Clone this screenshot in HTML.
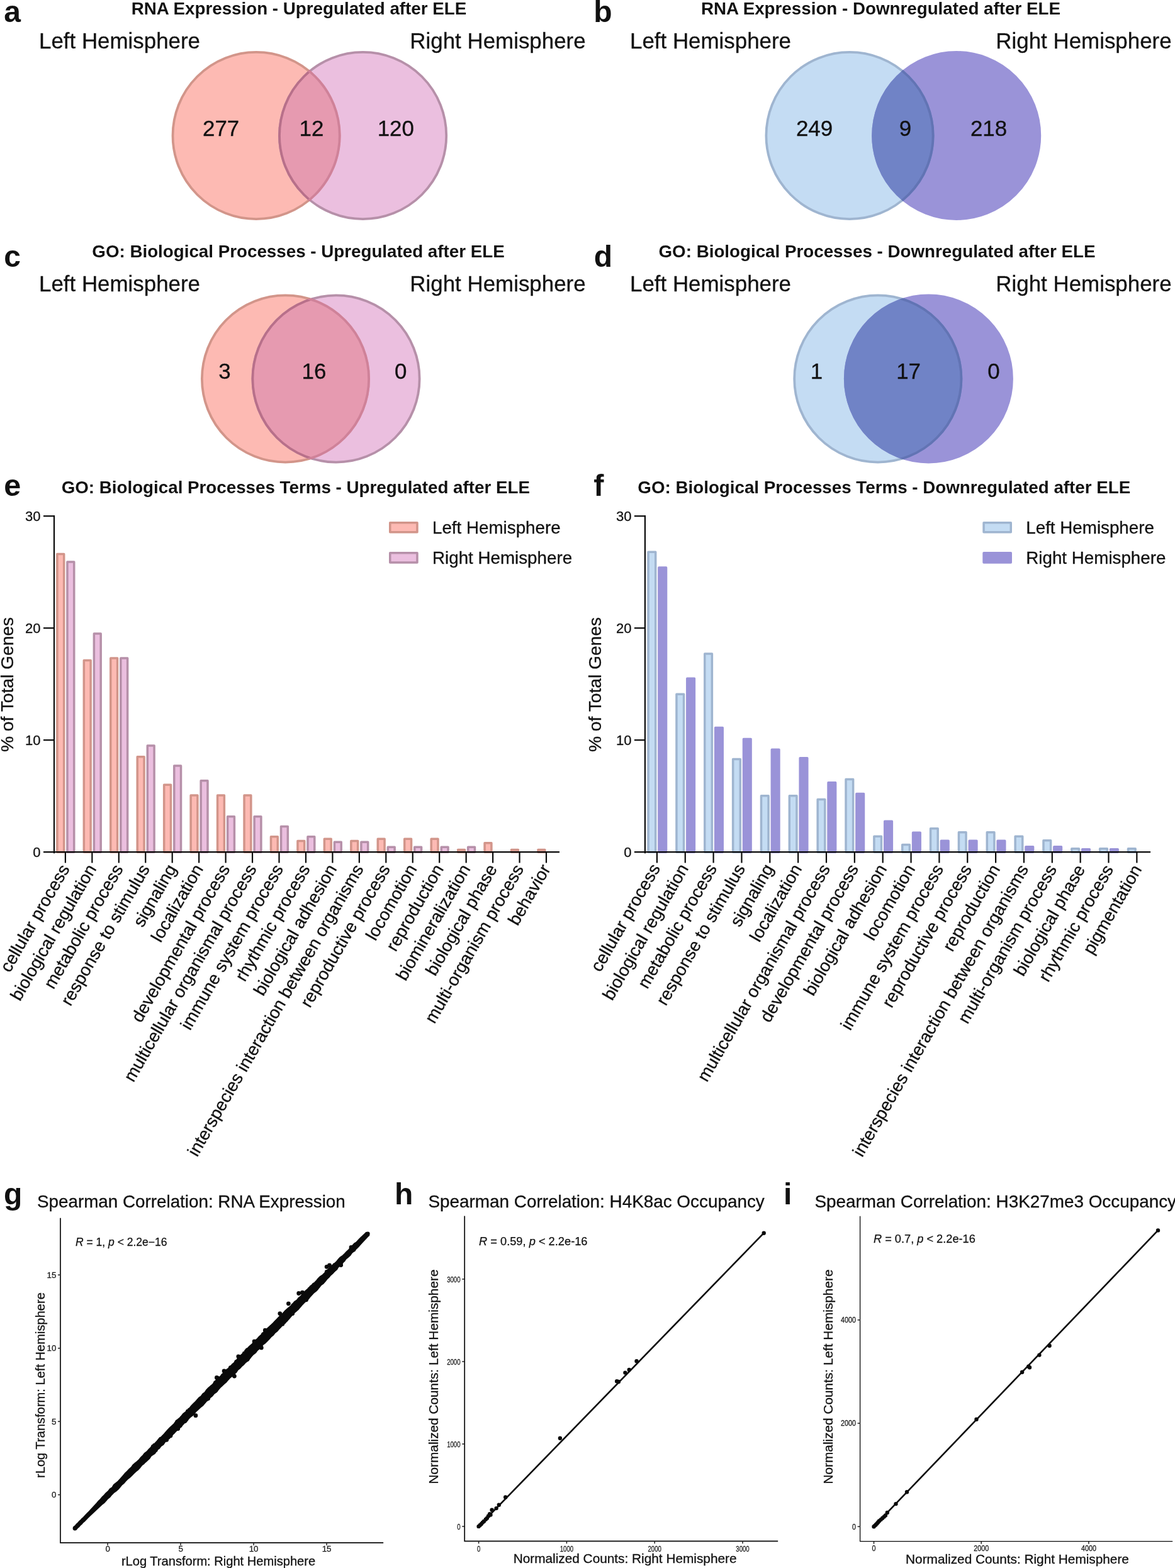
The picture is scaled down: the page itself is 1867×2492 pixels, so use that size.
<!DOCTYPE html>
<html lang="en"><head><meta charset="utf-8"><title>Figure</title>
<style>
html,body{margin:0;padding:0;background:#fff;}
body{width:1867px;height:2492px;overflow:hidden;}
svg{display:block;font-family:"Liberation Sans", sans-serif;}
</style></head><body>
<svg width="1867" height="2492" viewBox="0 0 1867 2492">
<rect width="1867" height="2492" fill="#fff"/>
<text x="6.30" y="35.00" font-size="48" font-weight="bold" text-anchor="start" fill="#111" >a</text>
<text x="475.00" y="22.50" font-size="27.75" font-weight="bold" text-anchor="middle" fill="#111" >RNA Expression - Upregulated after ELE</text>
<text x="62.00" y="77.00" font-size="34.9" font-weight="normal" text-anchor="start" fill="#111" stroke="#111" stroke-width="0.3" >Left Hemisphere</text>
<text x="930.60" y="77.00" font-size="34.9" font-weight="normal" text-anchor="end" fill="#111" stroke="#111" stroke-width="0.3" >Right Hemisphere</text>
<clipPath id="vc1"><circle cx="407.1" cy="215.5" r="134.5"/></clipPath>
<clipPath id="vd1"><circle cx="576.6" cy="215.5" r="134.5"/></clipPath>
<circle cx="407.1" cy="215.5" r="132.6" fill="#fdbab3" stroke="#d2958a" stroke-width="3.8"/>
<circle cx="576.6" cy="215.5" r="132.6" fill="#ebbfdf" stroke="#b690a9" stroke-width="3.8"/>
<g clip-path="url(#vc1)"><circle cx="576.6" cy="215.5" r="132.6" fill="#e69ab0" stroke="#b8708a" stroke-width="3.8"/></g>
<g clip-path="url(#vd1)"><circle cx="407.1" cy="215.5" r="132.6" fill="none" stroke="#cf8299" stroke-width="3.8"/></g>
<text x="351.10" y="215.80" font-size="34.9" font-weight="normal" text-anchor="middle" fill="#111" stroke="#111" stroke-width="0.3" >277</text>
<text x="495.00" y="215.80" font-size="34.9" font-weight="normal" text-anchor="middle" fill="#111" stroke="#111" stroke-width="0.3" >12</text>
<text x="628.80" y="215.80" font-size="34.9" font-weight="normal" text-anchor="middle" fill="#111" stroke="#111" stroke-width="0.3" >120</text>
<text x="943.30" y="35.00" font-size="48" font-weight="bold" text-anchor="start" fill="#111" >b</text>
<text x="1399.40" y="22.50" font-size="27.75" font-weight="bold" text-anchor="middle" fill="#111" >RNA Expression - Downregulated after ELE</text>
<text x="1001.00" y="77.00" font-size="34.9" font-weight="normal" text-anchor="start" fill="#111" stroke="#111" stroke-width="0.3" >Left Hemisphere</text>
<text x="1861.60" y="77.00" font-size="34.9" font-weight="normal" text-anchor="end" fill="#111" stroke="#111" stroke-width="0.3" >Right Hemisphere</text>
<clipPath id="vc2"><circle cx="1350" cy="215.5" r="134.5"/></clipPath>
<clipPath id="vd2"><circle cx="1519.7" cy="215.5" r="134.5"/></clipPath>
<circle cx="1350" cy="215.5" r="132.6" fill="#c4dcf3" stroke="#9fb5d0" stroke-width="3.8"/>
<circle cx="1519.7" cy="215.5" r="132.6" fill="#9a93d8" stroke="#9a93d8" stroke-width="3.8"/>
<g clip-path="url(#vc2)"><circle cx="1519.7" cy="215.5" r="132.6" fill="#7083c6" stroke="#7083c6" stroke-width="3.8"/></g>
<g clip-path="url(#vd2)"><circle cx="1350" cy="215.5" r="132.6" fill="none" stroke="#6274b4" stroke-width="3.8"/></g>
<text x="1294.00" y="215.80" font-size="34.9" font-weight="normal" text-anchor="middle" fill="#111" stroke="#111" stroke-width="0.3" >249</text>
<text x="1438.50" y="215.80" font-size="34.9" font-weight="normal" text-anchor="middle" fill="#111" stroke="#111" stroke-width="0.3" >9</text>
<text x="1571.00" y="215.80" font-size="34.9" font-weight="normal" text-anchor="middle" fill="#111" stroke="#111" stroke-width="0.3" >218</text>
<text x="6.30" y="423.80" font-size="48" font-weight="bold" text-anchor="start" fill="#111" >c</text>
<text x="474.00" y="408.60" font-size="27.75" font-weight="bold" text-anchor="middle" fill="#111" >GO: Biological Processes - Upregulated after ELE</text>
<text x="62.00" y="463.00" font-size="34.9" font-weight="normal" text-anchor="start" fill="#111" stroke="#111" stroke-width="0.3" >Left Hemisphere</text>
<text x="930.60" y="463.00" font-size="34.9" font-weight="normal" text-anchor="end" fill="#111" stroke="#111" stroke-width="0.3" >Right Hemisphere</text>
<clipPath id="vc3"><circle cx="453.5" cy="602" r="134.5"/></clipPath>
<clipPath id="vd3"><circle cx="534" cy="602" r="134.5"/></clipPath>
<circle cx="453.5" cy="602" r="132.6" fill="#fdbab3" stroke="#d2958a" stroke-width="3.8"/>
<circle cx="534" cy="602" r="132.6" fill="#ebbfdf" stroke="#b690a9" stroke-width="3.8"/>
<g clip-path="url(#vc3)"><circle cx="534" cy="602" r="132.6" fill="#e69ab0" stroke="#b8708a" stroke-width="3.8"/></g>
<g clip-path="url(#vd3)"><circle cx="453.5" cy="602" r="132.6" fill="none" stroke="#cf8299" stroke-width="3.8"/></g>
<text x="357.00" y="602.30" font-size="34.9" font-weight="normal" text-anchor="middle" fill="#111" stroke="#111" stroke-width="0.3" >3</text>
<text x="499.00" y="602.30" font-size="34.9" font-weight="normal" text-anchor="middle" fill="#111" stroke="#111" stroke-width="0.3" >16</text>
<text x="636.70" y="602.30" font-size="34.9" font-weight="normal" text-anchor="middle" fill="#111" stroke="#111" stroke-width="0.3" >0</text>
<text x="943.80" y="423.60" font-size="48" font-weight="bold" text-anchor="start" fill="#111" >d</text>
<text x="1393.50" y="408.60" font-size="27.75" font-weight="bold" text-anchor="middle" fill="#111" >GO: Biological Processes - Downregulated after ELE</text>
<text x="1001.00" y="463.00" font-size="34.9" font-weight="normal" text-anchor="start" fill="#111" stroke="#111" stroke-width="0.3" >Left Hemisphere</text>
<text x="1861.60" y="463.00" font-size="34.9" font-weight="normal" text-anchor="end" fill="#111" stroke="#111" stroke-width="0.3" >Right Hemisphere</text>
<clipPath id="vc4"><circle cx="1394.8" cy="602" r="134.5"/></clipPath>
<clipPath id="vd4"><circle cx="1475.4" cy="602" r="134.5"/></clipPath>
<circle cx="1394.8" cy="602" r="132.6" fill="#c4dcf3" stroke="#9fb5d0" stroke-width="3.8"/>
<circle cx="1475.4" cy="602" r="132.6" fill="#9a93d8" stroke="#9a93d8" stroke-width="3.8"/>
<g clip-path="url(#vc4)"><circle cx="1475.4" cy="602" r="132.6" fill="#7083c6" stroke="#7083c6" stroke-width="3.8"/></g>
<g clip-path="url(#vd4)"><circle cx="1394.8" cy="602" r="132.6" fill="none" stroke="#6274b4" stroke-width="3.8"/></g>
<text x="1297.50" y="602.30" font-size="34.9" font-weight="normal" text-anchor="middle" fill="#111" stroke="#111" stroke-width="0.3" >1</text>
<text x="1443.60" y="602.30" font-size="34.9" font-weight="normal" text-anchor="middle" fill="#111" stroke="#111" stroke-width="0.3" >17</text>
<text x="1579.00" y="602.30" font-size="34.9" font-weight="normal" text-anchor="middle" fill="#111" stroke="#111" stroke-width="0.3" >0</text>
<rect x="90.88" y="880.51" width="10.80" height="473.69" fill="#fdbab3" stroke="#d2958a" stroke-width="3.5" stroke-linejoin="round"/>
<rect x="106.93" y="892.97" width="10.80" height="461.23" fill="#ebbfdf" stroke="#b690a9" stroke-width="3.5" stroke-linejoin="round"/>
<rect x="133.33" y="1049.61" width="10.80" height="304.59" fill="#fdbab3" stroke="#d2958a" stroke-width="3.5" stroke-linejoin="round"/>
<rect x="149.38" y="1006.89" width="10.80" height="347.31" fill="#ebbfdf" stroke="#b690a9" stroke-width="3.5" stroke-linejoin="round"/>
<rect x="175.78" y="1046.05" width="10.80" height="308.15" fill="#fdbab3" stroke="#d2958a" stroke-width="3.5" stroke-linejoin="round"/>
<rect x="191.83" y="1046.05" width="10.80" height="308.15" fill="#ebbfdf" stroke="#b690a9" stroke-width="3.5" stroke-linejoin="round"/>
<rect x="218.22" y="1202.69" width="10.80" height="151.51" fill="#fdbab3" stroke="#d2958a" stroke-width="3.5" stroke-linejoin="round"/>
<rect x="234.28" y="1184.89" width="10.80" height="169.31" fill="#ebbfdf" stroke="#b690a9" stroke-width="3.5" stroke-linejoin="round"/>
<rect x="260.68" y="1247.19" width="10.80" height="107.01" fill="#fdbab3" stroke="#d2958a" stroke-width="3.5" stroke-linejoin="round"/>
<rect x="276.73" y="1216.93" width="10.80" height="137.27" fill="#ebbfdf" stroke="#b690a9" stroke-width="3.5" stroke-linejoin="round"/>
<rect x="303.12" y="1263.92" width="10.80" height="90.28" fill="#fdbab3" stroke="#d2958a" stroke-width="3.5" stroke-linejoin="round"/>
<rect x="319.17" y="1240.78" width="10.80" height="113.42" fill="#ebbfdf" stroke="#b690a9" stroke-width="3.5" stroke-linejoin="round"/>
<rect x="345.57" y="1263.92" width="10.80" height="90.28" fill="#fdbab3" stroke="#d2958a" stroke-width="3.5" stroke-linejoin="round"/>
<rect x="361.62" y="1297.74" width="10.80" height="56.46" fill="#ebbfdf" stroke="#b690a9" stroke-width="3.5" stroke-linejoin="round"/>
<rect x="388.03" y="1263.92" width="10.80" height="90.28" fill="#fdbab3" stroke="#d2958a" stroke-width="3.5" stroke-linejoin="round"/>
<rect x="404.08" y="1297.74" width="10.80" height="56.46" fill="#ebbfdf" stroke="#b690a9" stroke-width="3.5" stroke-linejoin="round"/>
<rect x="430.47" y="1329.78" width="10.80" height="24.42" fill="#fdbab3" stroke="#d2958a" stroke-width="3.5" stroke-linejoin="round"/>
<rect x="446.52" y="1313.41" width="10.80" height="40.79" fill="#ebbfdf" stroke="#b690a9" stroke-width="3.5" stroke-linejoin="round"/>
<rect x="472.93" y="1336.55" width="10.80" height="17.65" fill="#fdbab3" stroke="#d2958a" stroke-width="3.5" stroke-linejoin="round"/>
<rect x="488.98" y="1329.78" width="10.80" height="24.42" fill="#ebbfdf" stroke="#b690a9" stroke-width="3.5" stroke-linejoin="round"/>
<rect x="515.38" y="1333.17" width="10.80" height="21.03" fill="#fdbab3" stroke="#d2958a" stroke-width="3.5" stroke-linejoin="round"/>
<rect x="531.42" y="1338.15" width="10.80" height="16.05" fill="#ebbfdf" stroke="#b690a9" stroke-width="3.5" stroke-linejoin="round"/>
<rect x="557.83" y="1336.55" width="10.80" height="17.65" fill="#fdbab3" stroke="#d2958a" stroke-width="3.5" stroke-linejoin="round"/>
<rect x="573.88" y="1338.15" width="10.80" height="16.05" fill="#ebbfdf" stroke="#b690a9" stroke-width="3.5" stroke-linejoin="round"/>
<rect x="600.28" y="1333.17" width="10.80" height="21.03" fill="#fdbab3" stroke="#d2958a" stroke-width="3.5" stroke-linejoin="round"/>
<rect x="616.33" y="1346.16" width="10.80" height="8.04" fill="#ebbfdf" stroke="#b690a9" stroke-width="3.5" stroke-linejoin="round"/>
<rect x="642.73" y="1333.17" width="10.80" height="21.03" fill="#fdbab3" stroke="#d2958a" stroke-width="3.5" stroke-linejoin="round"/>
<rect x="658.77" y="1346.16" width="10.80" height="8.04" fill="#ebbfdf" stroke="#b690a9" stroke-width="3.5" stroke-linejoin="round"/>
<rect x="685.18" y="1333.17" width="10.80" height="21.03" fill="#fdbab3" stroke="#d2958a" stroke-width="3.5" stroke-linejoin="round"/>
<rect x="701.23" y="1346.16" width="10.80" height="8.04" fill="#ebbfdf" stroke="#b690a9" stroke-width="3.5" stroke-linejoin="round"/>
<rect x="727.62" y="1350.43" width="10.80" height="3.77" fill="#fdbab3" stroke="#d2958a" stroke-width="3.5" stroke-linejoin="round"/>
<rect x="743.67" y="1346.16" width="10.80" height="8.04" fill="#ebbfdf" stroke="#b690a9" stroke-width="3.5" stroke-linejoin="round"/>
<rect x="770.08" y="1339.75" width="10.80" height="14.45" fill="#fdbab3" stroke="#d2958a" stroke-width="3.5" stroke-linejoin="round"/>
<rect x="812.53" y="1350.43" width="10.80" height="3.77" fill="#fdbab3" stroke="#d2958a" stroke-width="3.5" stroke-linejoin="round"/>
<rect x="854.98" y="1350.43" width="10.80" height="3.77" fill="#fdbab3" stroke="#d2958a" stroke-width="3.5" stroke-linejoin="round"/>
<path d="M86.0 819.1 V1356.2 M69.0 1354.2 H889" fill="none" stroke="#0a0a0a" stroke-width="2.2"/>
<text x="64.60" y="1361.90" font-size="22" font-weight="normal" text-anchor="end" fill="#111" stroke="#111" stroke-width="0.3" >0</text>
<path d="M69.0 1176.20 H86.0" stroke="#0a0a0a" stroke-width="2.2"/>
<text x="64.60" y="1183.90" font-size="22" font-weight="normal" text-anchor="end" fill="#111" stroke="#111" stroke-width="0.3" >10</text>
<path d="M69.0 998.20 H86.0" stroke="#0a0a0a" stroke-width="2.2"/>
<text x="64.60" y="1005.90" font-size="22" font-weight="normal" text-anchor="end" fill="#111" stroke="#111" stroke-width="0.3" >20</text>
<path d="M69.0 820.20 H86.0" stroke="#0a0a0a" stroke-width="2.2"/>
<text x="64.60" y="827.90" font-size="22" font-weight="normal" text-anchor="end" fill="#111" stroke="#111" stroke-width="0.3" >30</text>
<path d="M103.90 1354.2 V1371.4" stroke="#0a0a0a" stroke-width="2.2"/>
<text x="111.40" y="1380.70" font-size="27.65" font-weight="normal" text-anchor="end" fill="#111" stroke="#111" stroke-width="0.3" transform="rotate(-60 111.40 1380.70)">cellular process</text>
<path d="M146.35 1354.2 V1371.4" stroke="#0a0a0a" stroke-width="2.2"/>
<text x="153.85" y="1380.70" font-size="27.65" font-weight="normal" text-anchor="end" fill="#111" stroke="#111" stroke-width="0.3" transform="rotate(-60 153.85 1380.70)">biological regulation</text>
<path d="M188.80 1354.2 V1371.4" stroke="#0a0a0a" stroke-width="2.2"/>
<text x="196.30" y="1380.70" font-size="27.65" font-weight="normal" text-anchor="end" fill="#111" stroke="#111" stroke-width="0.3" transform="rotate(-60 196.30 1380.70)">metabolic process</text>
<path d="M231.25 1354.2 V1371.4" stroke="#0a0a0a" stroke-width="2.2"/>
<text x="238.75" y="1380.70" font-size="27.65" font-weight="normal" text-anchor="end" fill="#111" stroke="#111" stroke-width="0.3" transform="rotate(-60 238.75 1380.70)">response to stimulus</text>
<path d="M273.70 1354.2 V1371.4" stroke="#0a0a0a" stroke-width="2.2"/>
<text x="281.20" y="1380.70" font-size="27.65" font-weight="normal" text-anchor="end" fill="#111" stroke="#111" stroke-width="0.3" transform="rotate(-60 281.20 1380.70)">signaling</text>
<path d="M316.15 1354.2 V1371.4" stroke="#0a0a0a" stroke-width="2.2"/>
<text x="323.65" y="1380.70" font-size="27.65" font-weight="normal" text-anchor="end" fill="#111" stroke="#111" stroke-width="0.3" transform="rotate(-60 323.65 1380.70)">localization</text>
<path d="M358.60 1354.2 V1371.4" stroke="#0a0a0a" stroke-width="2.2"/>
<text x="366.10" y="1380.70" font-size="27.65" font-weight="normal" text-anchor="end" fill="#111" stroke="#111" stroke-width="0.3" transform="rotate(-60 366.10 1380.70)">developmental process</text>
<path d="M401.05 1354.2 V1371.4" stroke="#0a0a0a" stroke-width="2.2"/>
<text x="408.55" y="1380.70" font-size="27.65" font-weight="normal" text-anchor="end" fill="#111" stroke="#111" stroke-width="0.3" transform="rotate(-60 408.55 1380.70)">multicellular organismal process</text>
<path d="M443.50 1354.2 V1371.4" stroke="#0a0a0a" stroke-width="2.2"/>
<text x="451.00" y="1380.70" font-size="27.65" font-weight="normal" text-anchor="end" fill="#111" stroke="#111" stroke-width="0.3" transform="rotate(-60 451.00 1380.70)">immune system process</text>
<path d="M485.95 1354.2 V1371.4" stroke="#0a0a0a" stroke-width="2.2"/>
<text x="493.45" y="1380.70" font-size="27.65" font-weight="normal" text-anchor="end" fill="#111" stroke="#111" stroke-width="0.3" transform="rotate(-60 493.45 1380.70)">rhythmic process</text>
<path d="M528.40 1354.2 V1371.4" stroke="#0a0a0a" stroke-width="2.2"/>
<text x="535.90" y="1380.70" font-size="27.65" font-weight="normal" text-anchor="end" fill="#111" stroke="#111" stroke-width="0.3" transform="rotate(-60 535.90 1380.70)">biological adhesion</text>
<path d="M570.85 1354.2 V1371.4" stroke="#0a0a0a" stroke-width="2.2"/>
<text x="578.35" y="1380.70" font-size="27.65" font-weight="normal" text-anchor="end" fill="#111" stroke="#111" stroke-width="0.3" transform="rotate(-60 578.35 1380.70)">interspecies interaction between organisms</text>
<path d="M613.30 1354.2 V1371.4" stroke="#0a0a0a" stroke-width="2.2"/>
<text x="620.80" y="1380.70" font-size="27.65" font-weight="normal" text-anchor="end" fill="#111" stroke="#111" stroke-width="0.3" transform="rotate(-60 620.80 1380.70)">reproductive process</text>
<path d="M655.75 1354.2 V1371.4" stroke="#0a0a0a" stroke-width="2.2"/>
<text x="663.25" y="1380.70" font-size="27.65" font-weight="normal" text-anchor="end" fill="#111" stroke="#111" stroke-width="0.3" transform="rotate(-60 663.25 1380.70)">locomotion</text>
<path d="M698.20 1354.2 V1371.4" stroke="#0a0a0a" stroke-width="2.2"/>
<text x="705.70" y="1380.70" font-size="27.65" font-weight="normal" text-anchor="end" fill="#111" stroke="#111" stroke-width="0.3" transform="rotate(-60 705.70 1380.70)">reproduction</text>
<path d="M740.65 1354.2 V1371.4" stroke="#0a0a0a" stroke-width="2.2"/>
<text x="748.15" y="1380.70" font-size="27.65" font-weight="normal" text-anchor="end" fill="#111" stroke="#111" stroke-width="0.3" transform="rotate(-60 748.15 1380.70)">biomineralization</text>
<path d="M783.10 1354.2 V1371.4" stroke="#0a0a0a" stroke-width="2.2"/>
<text x="790.60" y="1380.70" font-size="27.65" font-weight="normal" text-anchor="end" fill="#111" stroke="#111" stroke-width="0.3" transform="rotate(-60 790.60 1380.70)">biological phase</text>
<path d="M825.55 1354.2 V1371.4" stroke="#0a0a0a" stroke-width="2.2"/>
<text x="833.05" y="1380.70" font-size="27.65" font-weight="normal" text-anchor="end" fill="#111" stroke="#111" stroke-width="0.3" transform="rotate(-60 833.05 1380.70)">multi-organism process</text>
<path d="M868.00 1354.2 V1371.4" stroke="#0a0a0a" stroke-width="2.2"/>
<text x="875.50" y="1380.70" font-size="27.65" font-weight="normal" text-anchor="end" fill="#111" stroke="#111" stroke-width="0.3" transform="rotate(-60 875.50 1380.70)">behavior</text>
<text x="21.30" y="1087.70" font-size="28.2" font-weight="normal" text-anchor="middle" fill="#111" stroke="#111" stroke-width="0.3" transform="rotate(-90 21.3 1088)">% of Total Genes</text>
<rect x="619.75" y="830.65" width="43.2" height="15.2" fill="#fdbab3" stroke="#d2958a" stroke-width="3.5" stroke-linejoin="round"/>
<text x="687.00" y="848.00" font-size="27.75" font-weight="normal" text-anchor="start" fill="#111" stroke="#111" stroke-width="0.3" >Left Hemisphere</text>
<rect x="619.75" y="878.75" width="43.2" height="15.2" fill="#ebbfdf" stroke="#b690a9" stroke-width="3.5" stroke-linejoin="round"/>
<text x="687.00" y="896.10" font-size="27.75" font-weight="normal" text-anchor="start" fill="#111" stroke="#111" stroke-width="0.3" >Right Hemisphere</text>
<text x="6.30" y="787.60" font-size="48.5" font-weight="bold" text-anchor="start" fill="#111" >e</text>
<text x="469.80" y="784.30" font-size="27.75" font-weight="bold" text-anchor="middle" fill="#111" >GO: Biological Processes Terms - Upregulated after ELE</text>
<rect x="1030.08" y="877.13" width="11.60" height="477.07" fill="#c4dcf3" stroke="#9fb5d0" stroke-width="3.5" stroke-linejoin="round"/>
<rect x="1046.93" y="902.05" width="11.60" height="452.15" fill="#9a93d8" stroke="#9a93d8" stroke-width="3.5" stroke-linejoin="round"/>
<rect x="1074.93" y="1103.19" width="11.60" height="251.01" fill="#c4dcf3" stroke="#9fb5d0" stroke-width="3.5" stroke-linejoin="round"/>
<rect x="1091.78" y="1078.27" width="11.60" height="275.93" fill="#9a93d8" stroke="#9a93d8" stroke-width="3.5" stroke-linejoin="round"/>
<rect x="1119.78" y="1039.11" width="11.60" height="315.09" fill="#c4dcf3" stroke="#9fb5d0" stroke-width="3.5" stroke-linejoin="round"/>
<rect x="1136.63" y="1156.59" width="11.60" height="197.61" fill="#9a93d8" stroke="#9a93d8" stroke-width="3.5" stroke-linejoin="round"/>
<rect x="1164.63" y="1206.43" width="11.60" height="147.77" fill="#c4dcf3" stroke="#9fb5d0" stroke-width="3.5" stroke-linejoin="round"/>
<rect x="1181.48" y="1174.39" width="11.60" height="179.81" fill="#9a93d8" stroke="#9a93d8" stroke-width="3.5" stroke-linejoin="round"/>
<rect x="1209.48" y="1264.64" width="11.60" height="89.56" fill="#c4dcf3" stroke="#9fb5d0" stroke-width="3.5" stroke-linejoin="round"/>
<rect x="1226.33" y="1191.30" width="11.60" height="162.90" fill="#9a93d8" stroke="#9a93d8" stroke-width="3.5" stroke-linejoin="round"/>
<rect x="1254.33" y="1264.64" width="11.60" height="89.56" fill="#c4dcf3" stroke="#9fb5d0" stroke-width="3.5" stroke-linejoin="round"/>
<rect x="1271.18" y="1204.65" width="11.60" height="149.55" fill="#9a93d8" stroke="#9a93d8" stroke-width="3.5" stroke-linejoin="round"/>
<rect x="1299.18" y="1270.51" width="11.60" height="83.69" fill="#c4dcf3" stroke="#9fb5d0" stroke-width="3.5" stroke-linejoin="round"/>
<rect x="1316.03" y="1243.81" width="11.60" height="110.39" fill="#9a93d8" stroke="#9a93d8" stroke-width="3.5" stroke-linejoin="round"/>
<rect x="1344.03" y="1238.47" width="11.60" height="115.73" fill="#c4dcf3" stroke="#9fb5d0" stroke-width="3.5" stroke-linejoin="round"/>
<rect x="1360.88" y="1261.61" width="11.60" height="92.59" fill="#9a93d8" stroke="#9a93d8" stroke-width="3.5" stroke-linejoin="round"/>
<rect x="1388.88" y="1329.25" width="11.60" height="24.95" fill="#c4dcf3" stroke="#9fb5d0" stroke-width="3.5" stroke-linejoin="round"/>
<rect x="1405.73" y="1305.22" width="11.60" height="48.98" fill="#9a93d8" stroke="#9a93d8" stroke-width="3.5" stroke-linejoin="round"/>
<rect x="1433.73" y="1342.42" width="11.60" height="11.78" fill="#c4dcf3" stroke="#9fb5d0" stroke-width="3.5" stroke-linejoin="round"/>
<rect x="1450.58" y="1323.20" width="11.60" height="31.00" fill="#9a93d8" stroke="#9a93d8" stroke-width="3.5" stroke-linejoin="round"/>
<rect x="1478.58" y="1316.79" width="11.60" height="37.41" fill="#c4dcf3" stroke="#9fb5d0" stroke-width="3.5" stroke-linejoin="round"/>
<rect x="1495.43" y="1336.37" width="11.60" height="17.83" fill="#9a93d8" stroke="#9a93d8" stroke-width="3.5" stroke-linejoin="round"/>
<rect x="1523.43" y="1322.66" width="11.60" height="31.54" fill="#c4dcf3" stroke="#9fb5d0" stroke-width="3.5" stroke-linejoin="round"/>
<rect x="1540.28" y="1336.37" width="11.60" height="17.83" fill="#9a93d8" stroke="#9a93d8" stroke-width="3.5" stroke-linejoin="round"/>
<rect x="1568.28" y="1322.66" width="11.60" height="31.54" fill="#c4dcf3" stroke="#9fb5d0" stroke-width="3.5" stroke-linejoin="round"/>
<rect x="1585.13" y="1336.37" width="11.60" height="17.83" fill="#9a93d8" stroke="#9a93d8" stroke-width="3.5" stroke-linejoin="round"/>
<rect x="1613.13" y="1329.25" width="11.60" height="24.95" fill="#c4dcf3" stroke="#9fb5d0" stroke-width="3.5" stroke-linejoin="round"/>
<rect x="1629.98" y="1345.80" width="11.60" height="8.40" fill="#9a93d8" stroke="#9a93d8" stroke-width="3.5" stroke-linejoin="round"/>
<rect x="1657.98" y="1335.66" width="11.60" height="18.54" fill="#c4dcf3" stroke="#9fb5d0" stroke-width="3.5" stroke-linejoin="round"/>
<rect x="1674.83" y="1345.80" width="11.60" height="8.40" fill="#9a93d8" stroke="#9a93d8" stroke-width="3.5" stroke-linejoin="round"/>
<rect x="1702.83" y="1348.83" width="11.60" height="5.37" fill="#c4dcf3" stroke="#9fb5d0" stroke-width="3.5" stroke-linejoin="round"/>
<rect x="1719.68" y="1349.72" width="11.60" height="4.48" fill="#9a93d8" stroke="#9a93d8" stroke-width="3.5" stroke-linejoin="round"/>
<rect x="1747.68" y="1348.83" width="11.60" height="5.37" fill="#c4dcf3" stroke="#9fb5d0" stroke-width="3.5" stroke-linejoin="round"/>
<rect x="1764.53" y="1349.72" width="11.60" height="4.48" fill="#9a93d8" stroke="#9a93d8" stroke-width="3.5" stroke-linejoin="round"/>
<rect x="1792.53" y="1348.83" width="11.60" height="5.37" fill="#c4dcf3" stroke="#9fb5d0" stroke-width="3.5" stroke-linejoin="round"/>
<path d="M1024.9 819.1 V1356.2 M1007.9000000000001 1354.2 H1828.1" fill="none" stroke="#0a0a0a" stroke-width="2.2"/>
<text x="1003.40" y="1361.90" font-size="22" font-weight="normal" text-anchor="end" fill="#111" stroke="#111" stroke-width="0.3" >0</text>
<path d="M1007.9000000000001 1176.20 H1024.9" stroke="#0a0a0a" stroke-width="2.2"/>
<text x="1003.40" y="1183.90" font-size="22" font-weight="normal" text-anchor="end" fill="#111" stroke="#111" stroke-width="0.3" >10</text>
<path d="M1007.9000000000001 998.20 H1024.9" stroke="#0a0a0a" stroke-width="2.2"/>
<text x="1003.40" y="1005.90" font-size="22" font-weight="normal" text-anchor="end" fill="#111" stroke="#111" stroke-width="0.3" >20</text>
<path d="M1007.9000000000001 820.20 H1024.9" stroke="#0a0a0a" stroke-width="2.2"/>
<text x="1003.40" y="827.90" font-size="22" font-weight="normal" text-anchor="end" fill="#111" stroke="#111" stroke-width="0.3" >30</text>
<path d="M1043.90 1354.2 V1371.4" stroke="#0a0a0a" stroke-width="2.2"/>
<text x="1049.80" y="1379.90" font-size="27.65" font-weight="normal" text-anchor="end" fill="#111" stroke="#111" stroke-width="0.3" transform="rotate(-60 1049.80 1379.90)">cellular process</text>
<path d="M1088.75 1354.2 V1371.4" stroke="#0a0a0a" stroke-width="2.2"/>
<text x="1094.81" y="1379.99" font-size="27.65" font-weight="normal" text-anchor="end" fill="#111" stroke="#111" stroke-width="0.3" transform="rotate(-60 1094.81 1379.99)">biological regulation</text>
<path d="M1133.60 1354.2 V1371.4" stroke="#0a0a0a" stroke-width="2.2"/>
<text x="1139.83" y="1380.09" font-size="27.65" font-weight="normal" text-anchor="end" fill="#111" stroke="#111" stroke-width="0.3" transform="rotate(-60 1139.83 1380.09)">metabolic process</text>
<path d="M1178.45 1354.2 V1371.4" stroke="#0a0a0a" stroke-width="2.2"/>
<text x="1184.84" y="1380.18" font-size="27.65" font-weight="normal" text-anchor="end" fill="#111" stroke="#111" stroke-width="0.3" transform="rotate(-60 1184.84 1380.18)">response to stimulus</text>
<path d="M1223.30 1354.2 V1371.4" stroke="#0a0a0a" stroke-width="2.2"/>
<text x="1229.86" y="1380.28" font-size="27.65" font-weight="normal" text-anchor="end" fill="#111" stroke="#111" stroke-width="0.3" transform="rotate(-60 1229.86 1380.28)">signaling</text>
<path d="M1268.15 1354.2 V1371.4" stroke="#0a0a0a" stroke-width="2.2"/>
<text x="1274.87" y="1380.37" font-size="27.65" font-weight="normal" text-anchor="end" fill="#111" stroke="#111" stroke-width="0.3" transform="rotate(-60 1274.87 1380.37)">localization</text>
<path d="M1313.00 1354.2 V1371.4" stroke="#0a0a0a" stroke-width="2.2"/>
<text x="1319.89" y="1380.46" font-size="27.65" font-weight="normal" text-anchor="end" fill="#111" stroke="#111" stroke-width="0.3" transform="rotate(-60 1319.89 1380.46)">multicellular organismal process</text>
<path d="M1357.85 1354.2 V1371.4" stroke="#0a0a0a" stroke-width="2.2"/>
<text x="1364.90" y="1380.56" font-size="27.65" font-weight="normal" text-anchor="end" fill="#111" stroke="#111" stroke-width="0.3" transform="rotate(-60 1364.90 1380.56)">developmental process</text>
<path d="M1402.70 1354.2 V1371.4" stroke="#0a0a0a" stroke-width="2.2"/>
<text x="1409.92" y="1380.65" font-size="27.65" font-weight="normal" text-anchor="end" fill="#111" stroke="#111" stroke-width="0.3" transform="rotate(-60 1409.92 1380.65)">biological adhesion</text>
<path d="M1447.55 1354.2 V1371.4" stroke="#0a0a0a" stroke-width="2.2"/>
<text x="1454.93" y="1380.75" font-size="27.65" font-weight="normal" text-anchor="end" fill="#111" stroke="#111" stroke-width="0.3" transform="rotate(-60 1454.93 1380.75)">locomotion</text>
<path d="M1492.40 1354.2 V1371.4" stroke="#0a0a0a" stroke-width="2.2"/>
<text x="1499.95" y="1380.84" font-size="27.65" font-weight="normal" text-anchor="end" fill="#111" stroke="#111" stroke-width="0.3" transform="rotate(-60 1499.95 1380.84)">immune system process</text>
<path d="M1537.25 1354.2 V1371.4" stroke="#0a0a0a" stroke-width="2.2"/>
<text x="1544.96" y="1380.94" font-size="27.65" font-weight="normal" text-anchor="end" fill="#111" stroke="#111" stroke-width="0.3" transform="rotate(-60 1544.96 1380.94)">reproductive process</text>
<path d="M1582.10 1354.2 V1371.4" stroke="#0a0a0a" stroke-width="2.2"/>
<text x="1589.98" y="1381.03" font-size="27.65" font-weight="normal" text-anchor="end" fill="#111" stroke="#111" stroke-width="0.3" transform="rotate(-60 1589.98 1381.03)">reproduction</text>
<path d="M1626.95 1354.2 V1371.4" stroke="#0a0a0a" stroke-width="2.2"/>
<text x="1634.99" y="1381.12" font-size="27.65" font-weight="normal" text-anchor="end" fill="#111" stroke="#111" stroke-width="0.3" transform="rotate(-60 1634.99 1381.12)">interspecies interaction between organisms</text>
<path d="M1671.80 1354.2 V1371.4" stroke="#0a0a0a" stroke-width="2.2"/>
<text x="1680.01" y="1381.22" font-size="27.65" font-weight="normal" text-anchor="end" fill="#111" stroke="#111" stroke-width="0.3" transform="rotate(-60 1680.01 1381.22)">multi-organism process</text>
<path d="M1716.65 1354.2 V1371.4" stroke="#0a0a0a" stroke-width="2.2"/>
<text x="1725.02" y="1381.31" font-size="27.65" font-weight="normal" text-anchor="end" fill="#111" stroke="#111" stroke-width="0.3" transform="rotate(-60 1725.02 1381.31)">biological phase</text>
<path d="M1761.50 1354.2 V1371.4" stroke="#0a0a0a" stroke-width="2.2"/>
<text x="1770.04" y="1381.41" font-size="27.65" font-weight="normal" text-anchor="end" fill="#111" stroke="#111" stroke-width="0.3" transform="rotate(-60 1770.04 1381.41)">rhythmic process</text>
<path d="M1806.35 1354.2 V1371.4" stroke="#0a0a0a" stroke-width="2.2"/>
<text x="1815.05" y="1381.50" font-size="27.65" font-weight="normal" text-anchor="end" fill="#111" stroke="#111" stroke-width="0.3" transform="rotate(-60 1815.05 1381.50)">pigmentation</text>
<text x="955.30" y="1087.70" font-size="28.2" font-weight="normal" text-anchor="middle" fill="#111" stroke="#111" stroke-width="0.3" transform="rotate(-90 955.3 1088)">% of Total Genes</text>
<rect x="1563.05" y="830.65" width="43.2" height="15.2" fill="#c4dcf3" stroke="#9fb5d0" stroke-width="3.5" stroke-linejoin="round"/>
<text x="1630.30" y="848.00" font-size="27.75" font-weight="normal" text-anchor="start" fill="#111" stroke="#111" stroke-width="0.3" >Left Hemisphere</text>
<rect x="1563.05" y="878.75" width="43.2" height="15.2" fill="#9a93d8" stroke="#9a93d8" stroke-width="3.5" stroke-linejoin="round"/>
<text x="1630.30" y="896.10" font-size="27.75" font-weight="normal" text-anchor="start" fill="#111" stroke="#111" stroke-width="0.3" >Right Hemisphere</text>
<text x="943.30" y="787.60" font-size="48.5" font-weight="bold" text-anchor="start" fill="#111" >f</text>
<text x="1404.80" y="784.30" font-size="27.75" font-weight="bold" text-anchor="middle" fill="#111" >GO: Biological Processes Terms - Downregulated after ELE</text>
<path d="M95.96 1936.5 V2451.95 H608.3" fill="none" stroke="#0a0a0a" stroke-width="1.7" stroke-linecap="square"/>
<path d="M171.10 2451.95 V2455.95" stroke="#222" stroke-width="1.5"/>
<text x="0" y="0" font-size="13.4" text-anchor="middle" fill="#1c1c1c" stroke="#1c1c1c" stroke-width="0.3" transform="translate(171.10 2466.35) scale(1.0 1)">0</text>
<path d="M287.10 2451.95 V2455.95" stroke="#222" stroke-width="1.5"/>
<text x="0" y="0" font-size="13.4" text-anchor="middle" fill="#1c1c1c" stroke="#1c1c1c" stroke-width="0.3" transform="translate(287.10 2466.35) scale(1.0 1)">5</text>
<path d="M403.10 2451.95 V2455.95" stroke="#222" stroke-width="1.5"/>
<text x="0" y="0" font-size="13.4" text-anchor="middle" fill="#1c1c1c" stroke="#1c1c1c" stroke-width="0.3" transform="translate(403.10 2466.35) scale(1.0 1)">10</text>
<path d="M519.10 2451.95 V2455.95" stroke="#222" stroke-width="1.5"/>
<text x="0" y="0" font-size="13.4" text-anchor="middle" fill="#1c1c1c" stroke="#1c1c1c" stroke-width="0.3" transform="translate(519.10 2466.35) scale(1.0 1)">15</text>
<path d="M91.96 2375.60 H95.96" stroke="#222" stroke-width="1.5"/>
<text x="0" y="0" font-size="13.4" text-anchor="end" fill="#1c1c1c" stroke="#1c1c1c" stroke-width="0.3" transform="translate(89.36 2380.30) scale(1.0 1)">0</text>
<path d="M91.96 2259.15 H95.96" stroke="#222" stroke-width="1.5"/>
<text x="0" y="0" font-size="13.4" text-anchor="end" fill="#1c1c1c" stroke="#1c1c1c" stroke-width="0.3" transform="translate(89.36 2263.85) scale(1.0 1)">5</text>
<path d="M91.96 2142.70 H95.96" stroke="#222" stroke-width="1.5"/>
<text x="0" y="0" font-size="13.4" text-anchor="end" fill="#1c1c1c" stroke="#1c1c1c" stroke-width="0.3" transform="translate(89.36 2147.40) scale(1.0 1)">10</text>
<path d="M91.96 2026.25 H95.96" stroke="#222" stroke-width="1.5"/>
<text x="0" y="0" font-size="13.4" text-anchor="end" fill="#1c1c1c" stroke="#1c1c1c" stroke-width="0.3" transform="translate(89.36 2030.95) scale(1.0 1)">15</text>
<text x="59.00" y="1919.00" font-size="27.8" font-weight="normal" text-anchor="start" fill="#111" stroke="#111" stroke-width="0.3" >Spearman Correlation: RNA Expression</text>
<text x="6.00" y="1914.00" font-size="48" font-weight="bold" text-anchor="start" fill="#111" >g</text>
<text x="347.00" y="2487.50" font-size="20.1" font-weight="normal" text-anchor="middle" fill="#111" stroke="#111" stroke-width="0.3" >rLog Transform: Right Hemisphere</text>
<text x="71.00" y="2201.50" font-size="20.1" font-weight="normal" text-anchor="middle" fill="#111" stroke="#111" stroke-width="0.3" transform="rotate(-90 71 2201.5)">rLog Transform: Left Hemisphere</text>
<text x="120.00" y="1979.50" font-size="17.5" font-weight="normal" text-anchor="start" fill="#111" stroke="#111" stroke-width="0.25" ><tspan font-style="italic">R</tspan> = 1, <tspan font-style="italic">p</tspan> &lt; 2.2e−16</text>
<path d="M121.1 2431.0 L124.2 2427.9 L127.3 2424.8 L130.4 2421.7 L133.5 2418.6 L136.7 2415.5 L139.8 2412.4 L142.9 2409.3 L146.1 2406.3 L149.3 2403.3 L152.5 2400.3 L155.7 2397.2 L158.9 2394.2 L162.1 2391.2 L165.7 2388.6 L168.6 2385.3 L171.5 2381.9 L175.0 2379.2 L177.7 2375.7 L180.9 2372.6 L184.5 2370.0 L187.9 2367.1 L190.7 2363.8 L193.5 2360.3 L196.9 2357.6 L199.8 2354.2 L202.8 2351.0 L206.3 2348.3 L209.5 2345.2 L212.6 2342.1 L215.8 2339.0 L219.3 2336.3 L222.3 2333.1 L225.0 2329.6 L228.1 2326.5 L231.6 2323.8 L234.8 2320.7 L238.0 2317.7 L240.4 2313.9 L244.2 2311.5 L247.4 2308.4 L249.8 2304.6 L253.5 2302.0 L256.0 2298.4 L259.8 2296.0 L262.3 2292.2 L265.4 2289.1 L269.1 2286.6 L272.0 2283.3 L274.9 2279.9 L278.0 2276.8 L281.1 2273.7 L284.3 2270.6 L288.0 2268.1 L290.6 2264.5 L293.7 2261.4 L297.3 2258.8 L299.9 2255.1 L303.1 2252.1 L306.6 2249.4 L309.4 2246.0 L312.4 2242.7 L315.6 2239.7 L318.8 2236.7 L322.4 2234.1 L325.3 2230.7 L328.1 2227.3 L331.8 2224.8 L334.4 2221.2 L337.9 2218.5 L340.6 2215.0 L344.3 2212.4 L347.1 2208.9 L349.9 2205.6 L353.2 2202.6 L356.3 2199.5 L359.7 2196.7 L362.5 2193.3 L365.5 2190.1 L369.0 2187.3 L372.2 2184.3 L375.5 2181.4 L377.9 2177.6 L381.4 2174.8 L384.3 2171.5 L387.7 2168.7 L390.6 2165.4 L394.2 2162.8 L397.1 2159.4 L399.8 2155.9 L402.8 2152.7 L406.4 2150.1 L409.0 2146.4 L412.4 2143.6 L415.4 2140.4 L418.3 2137.1 L421.9 2134.4 L425.0 2131.3 L428.1 2128.2 L430.9 2124.8 L434.4 2122.1 L437.1 2118.5 L440.6 2115.8 L443.5 2112.4 L446.5 2109.3 L449.2 2105.8 L453.0 2103.3 L455.9 2099.9 L458.9 2096.8 L461.8 2093.4 L464.6 2090.0 L467.6 2086.8 L471.0 2084.0 L474.2 2081.0 L477.2 2077.7 L480.0 2074.3 L483.1 2071.2 L486.1 2068.0 L489.7 2065.3 L492.4 2061.8 L495.4 2058.6 L498.3 2055.3 L501.9 2052.6 L505.0 2049.5 L507.8 2046.0 L510.5 2042.5 L514.1 2039.9 L517.0 2036.6 L519.7 2033.1 L522.9 2030.0 L525.7 2026.7 L529.1 2023.8 L531.9 2020.4 L535.5 2017.7 L537.8 2013.8 L541.5 2011.3 L544.4 2008.0 L547.1 2004.5 L549.9 2001.1 L553.3 1998.2 L556.6 1995.3 L559.1 1991.6 L562.5 1988.8 L565.6 1985.6 L568.8 1982.6 L571.7 1979.3 L574.6 1976.0 L577.6 1972.8 L580.7 1969.6 L583.7 1966.4 L586.8 1963.3 L581.8 1958.3 L578.7 1961.4 L575.5 1964.5 L572.3 1967.5 L569.2 1970.6 L566.2 1973.9 L562.5 1976.3 L559.6 1979.6 L556.6 1982.9 L553.7 1986.2 L550.4 1989.2 L547.4 1992.4 L544.2 1995.4 L540.5 1997.9 L537.5 2001.1 L534.7 2004.6 L531.6 2007.7 L528.1 2010.4 L524.6 2013.2 L521.7 2016.5 L518.6 2019.6 L515.6 2022.8 L512.5 2025.9 L508.7 2028.4 L505.6 2031.5 L502.8 2034.9 L499.7 2038.1 L496.5 2041.1 L492.9 2043.7 L490.2 2047.2 L486.8 2050.0 L483.5 2053.0 L480.5 2056.2 L477.8 2059.7 L474.3 2062.4 L471.6 2066.0 L467.8 2068.4 L465.0 2071.8 L462.0 2075.1 L458.6 2077.9 L455.4 2080.8 L452.1 2083.8 L449.2 2087.1 L446.2 2090.4 L442.7 2093.1 L439.7 2096.3 L436.7 2099.5 L433.7 2102.7 L430.5 2105.7 L427.2 2108.7 L424.0 2111.7 L421.0 2115.0 L417.7 2117.9 L414.8 2121.2 L411.5 2124.1 L408.7 2127.5 L405.2 2130.3 L402.3 2133.6 L399.3 2136.8 L395.9 2139.6 L392.9 2142.8 L390.4 2146.6 L386.9 2149.3 L383.8 2152.4 L380.5 2155.3 L378.0 2159.0 L374.7 2162.0 L371.9 2165.4 L368.6 2168.3 L365.6 2171.5 L362.4 2174.6 L358.9 2177.3 L356.3 2180.9 L352.8 2183.6 L350.0 2187.1 L346.5 2189.8 L343.6 2193.1 L340.3 2196.0 L337.9 2199.8 L334.4 2202.6 L331.1 2205.5 L328.0 2208.6 L325.5 2212.4 L322.0 2215.0 L319.4 2218.7 L315.8 2221.3 L313.0 2224.7 L309.9 2227.9 L306.8 2230.9 L303.7 2234.1 L301.0 2237.6 L297.7 2240.6 L294.7 2243.8 L291.1 2246.4 L288.3 2249.8 L285.4 2253.1 L281.9 2255.9 L278.9 2259.1 L276.3 2262.7 L273.1 2265.7 L269.8 2268.7 L266.7 2271.8 L263.8 2275.1 L261.0 2278.5 L258.0 2281.7 L254.8 2284.8 L251.3 2287.5 L248.5 2291.0 L245.5 2294.2 L242.1 2297.0 L239.2 2300.3 L236.1 2303.4 L233.2 2306.8 L229.6 2309.4 L226.9 2312.9 L223.8 2316.0 L221.0 2319.4 L217.8 2322.4 L214.3 2325.2 L211.0 2328.1 L208.5 2331.8 L205.1 2334.7 L202.1 2337.9 L198.9 2340.9 L196.1 2344.3 L193.2 2347.7 L190.3 2351.0 L187.3 2354.2 L183.8 2356.9 L180.4 2359.8 L178.1 2363.7 L174.4 2366.2 L171.8 2369.8 L168.3 2372.6 L165.5 2375.9 L162.4 2379.0 L159.5 2382.4 L156.4 2385.5 L153.5 2388.9 L150.5 2392.1 L147.5 2395.3 L144.5 2398.6 L141.6 2401.8 L138.5 2405.0 L135.4 2408.1 L132.4 2411.3 L129.3 2414.4 L126.2 2417.5 L123.1 2420.7 L120.0 2423.8 L116.9 2427.0Z" fill="#0a0a0a" stroke="#0a0a0a" stroke-width="1.2" stroke-linejoin="round"/>
<path d="M119.0 2429.0h0M584.3 1960.8h0M123.5 2424.5h0M128.0 2420.0h0M132.5 2415.5h0M580.0 1965.0h0M576.0 1969.2h0M458.4 2071.8h0M474.7 2055.5h0M480.5 2054.2h0M519.1 2013.3h0M523.5 2011.0h0M444.8 2087.6h0M421.3 2114.2h0M404.1 2131.9h0M378.8 2155.8h0M344.4 2189.5h0M356.1 2179.0h0M372.4 2187.1h0M415.3 2141.9h0M541.7 2010.6h0M486.5 2065.8h0M464.8 2087.6h0M345.3 2190.0h0M310.9 2249.7h0M282.8 2270.5h0M264.7 2288.3h0M271.0 2281.7h0M558.0 1982.5h0M562.0 1986.0h0M371.0 2170.5h0M465.9 2074.7h0M274.7 2275.9h0M391.7 2147.3h0M342.5 2197.6h0M244.2 2308.1h0M254.2 2289.0h0M342.9 2209.4h0M366.4 2173.7h0M243.2 2299.1h0M281.7 2259.6h0M545.4 2002.6h0M298.3 2243.1h0M332.5 2218.3h0M330.8 2221.0h0M375.4 2166.5h0M360.0 2190.9h0M448.8 2104.2h0M264.6 2286.6h0M531.8 2010.6h0M472.0 2078.8h0M492.0 2049.0h0M393.1 2160.2h0M315.5 2226.5h0M317.5 2233.3h0M404.1 2137.0h0M379.8 2160.3h0M397.2 2153.7h0M393.1 2145.7h0M375.6 2164.3h0M529.8 2018.7h0M301.1 2241.0h0M330.7 2222.5h0M392.8 2158.3h0M418.4 2120.6h0M447.0 2091.9h0M279.8 2270.8h0M323.8 2227.6h0M245.4 2297.2h0M499.1 2041.9h0M446.9 2092.3h0M337.1 2204.3h0M391.3 2147.9h0M388.4 2150.8h0M293.8 2258.5h0M520.2 2028.3h0M513.2 2029.6h0M512.2 2030.7h0M258.5 2291.4h0M247.4 2304.6h0M393.3 2146.4h0M345.7 2194.6h0M246.7 2304.6h0M519.2 2021.5h0M454.4 2097.5h0M379.6 2160.3h0M482.4 2058.6h0M226.7 2324.4h0M260.3 2283.7h0M272.3 2278.0h0M525.9 2017.5h0M255.4 2287.1h0M474.1 2076.3h0M354.2 2187.0h0M413.9 2127.7h0M500.5 2048.5h0M331.7 2210.0h0M415.2 2126.3h0M324.0 2226.7h0M408.1 2143.2h0" stroke="#0a0a0a" stroke-width="6.8" stroke-linecap="round" fill="none"/>
<path d="M738.2 1933.4 V2449.3 H1235.3" fill="none" stroke="#0a0a0a" stroke-width="1.7" stroke-linecap="square"/>
<path d="M760.60 2449.3 V2453.3" stroke="#222" stroke-width="1.5"/>
<text x="0" y="0" font-size="13.6" text-anchor="middle" fill="#1c1c1c" stroke="#1c1c1c" stroke-width="0.3" transform="translate(760.60 2466.30) scale(0.71 1)">0</text>
<path d="M900.40 2449.3 V2453.3" stroke="#222" stroke-width="1.5"/>
<text x="0" y="0" font-size="13.6" text-anchor="middle" fill="#1c1c1c" stroke="#1c1c1c" stroke-width="0.3" transform="translate(900.40 2466.30) scale(0.71 1)">1000</text>
<path d="M1040.20 2449.3 V2453.3" stroke="#222" stroke-width="1.5"/>
<text x="0" y="0" font-size="13.6" text-anchor="middle" fill="#1c1c1c" stroke="#1c1c1c" stroke-width="0.3" transform="translate(1040.20 2466.30) scale(0.71 1)">2000</text>
<path d="M1180.00 2449.3 V2453.3" stroke="#222" stroke-width="1.5"/>
<text x="0" y="0" font-size="13.6" text-anchor="middle" fill="#1c1c1c" stroke="#1c1c1c" stroke-width="0.3" transform="translate(1180.00 2466.30) scale(0.71 1)">3000</text>
<path d="M734.2 2425.90 H738.2" stroke="#222" stroke-width="1.5"/>
<text x="0" y="0" font-size="13.6" text-anchor="end" fill="#1c1c1c" stroke="#1c1c1c" stroke-width="0.3" transform="translate(731.60 2431.10) scale(0.71 1)">0</text>
<path d="M734.2 2294.90 H738.2" stroke="#222" stroke-width="1.5"/>
<text x="0" y="0" font-size="13.6" text-anchor="end" fill="#1c1c1c" stroke="#1c1c1c" stroke-width="0.3" transform="translate(731.60 2300.10) scale(0.71 1)">1000</text>
<path d="M734.2 2163.90 H738.2" stroke="#222" stroke-width="1.5"/>
<text x="0" y="0" font-size="13.6" text-anchor="end" fill="#1c1c1c" stroke="#1c1c1c" stroke-width="0.3" transform="translate(731.60 2169.10) scale(0.71 1)">2000</text>
<path d="M734.2 2032.90 H738.2" stroke="#222" stroke-width="1.5"/>
<text x="0" y="0" font-size="13.6" text-anchor="end" fill="#1c1c1c" stroke="#1c1c1c" stroke-width="0.3" transform="translate(731.60 2038.10) scale(0.71 1)">3000</text>
<text x="680.50" y="1919.00" font-size="27.875" font-weight="normal" text-anchor="start" fill="#111" stroke="#111" stroke-width="0.3" >Spearman Correlation: H4K8ac Occupancy</text>
<text x="627.00" y="1914.00" font-size="48" font-weight="bold" text-anchor="start" fill="#111" >h</text>
<text x="993.10" y="2484.30" font-size="20.8" font-weight="normal" text-anchor="middle" fill="#111" stroke="#111" stroke-width="0.3" >Normalized Counts: Right Hemisphere</text>
<text x="696.00" y="2188.00" font-size="20.8" font-weight="normal" text-anchor="middle" fill="#111" stroke="#111" stroke-width="0.3" transform="rotate(-90 696 2188)">Normalized Counts: Left Hemisphere</text>
<text x="761.00" y="1979.00" font-size="18.25" font-weight="normal" text-anchor="start" fill="#111" stroke="#111" stroke-width="0.25" ><tspan font-style="italic">R</tspan> = 0.59, <tspan font-style="italic">p</tspan> &lt; 2.2e-16</text>
<path d="M760.6 2425.9 L1213.7 1959.7" stroke="#0a0a0a" stroke-width="2.6" stroke-linecap="round"/>
<path d="M760.6 2425.9h0M762.7 2423.9h0M764.8 2422.0h0M766.9 2419.6h0M769.0 2417.8h0M771.8 2414.8h0M773.9 2412.8h0M776.0 2409.5h0M778.1 2406.2h0M779.5 2407.6h0M781.6 2399.7h0M788.6 2397.1h0M792.8 2391.8h0M803.2 2379.4h0M889.9 2285.7h0M980.1 2195.3h0M982.9 2196.0h0M993.4 2181.6h0M999.7 2177.0h0M1011.5 2163.2h0M1213.7 1959.7h0" stroke="#0a0a0a" stroke-width="6.4" stroke-linecap="round" fill="none"/>
<path d="M1366.6 1933.4 V2449.7 H1862.5" fill="none" stroke="#0a0a0a" stroke-width="1.3" stroke-linecap="square"/>
<path d="M1388.50 2449.7 V2453.7" stroke="#222" stroke-width="1.5"/>
<text x="0" y="0" font-size="12.2" text-anchor="middle" fill="#1c1c1c" stroke="#1c1c1c" stroke-width="0.3" transform="translate(1388.50 2464.80) scale(0.885 1)">0</text>
<path d="M1559.20 2449.7 V2453.7" stroke="#222" stroke-width="1.5"/>
<text x="0" y="0" font-size="12.2" text-anchor="middle" fill="#1c1c1c" stroke="#1c1c1c" stroke-width="0.3" transform="translate(1559.20 2464.80) scale(0.885 1)">2000</text>
<path d="M1729.90 2449.7 V2453.7" stroke="#222" stroke-width="1.5"/>
<text x="0" y="0" font-size="12.2" text-anchor="middle" fill="#1c1c1c" stroke="#1c1c1c" stroke-width="0.3" transform="translate(1729.90 2464.80) scale(0.885 1)">4000</text>
<path d="M1362.6 2426.20 H1366.6" stroke="#222" stroke-width="1.5"/>
<text x="0" y="0" font-size="12.2" text-anchor="end" fill="#1c1c1c" stroke="#1c1c1c" stroke-width="0.3" transform="translate(1360.00 2430.50) scale(0.885 1)">0</text>
<path d="M1362.6 2262.00 H1366.6" stroke="#222" stroke-width="1.5"/>
<text x="0" y="0" font-size="12.2" text-anchor="end" fill="#1c1c1c" stroke="#1c1c1c" stroke-width="0.3" transform="translate(1360.00 2266.30) scale(0.885 1)">2000</text>
<path d="M1362.6 2097.80 H1366.6" stroke="#222" stroke-width="1.5"/>
<text x="0" y="0" font-size="12.2" text-anchor="end" fill="#1c1c1c" stroke="#1c1c1c" stroke-width="0.3" transform="translate(1360.00 2102.10) scale(0.885 1)">4000</text>
<text x="1294.50" y="1919.00" font-size="27.875" font-weight="normal" text-anchor="start" fill="#111" stroke="#111" stroke-width="0.3" >Spearman Correlation: H3K27me3 Occupancy</text>
<text x="1245.00" y="1914.00" font-size="48" font-weight="bold" text-anchor="start" fill="#111" >i</text>
<text x="1616.50" y="2484.60" font-size="20.8" font-weight="normal" text-anchor="middle" fill="#111" stroke="#111" stroke-width="0.3" >Normalized Counts: Right Hemisphere</text>
<text x="1323.30" y="2188.00" font-size="20.8" font-weight="normal" text-anchor="middle" fill="#111" stroke="#111" stroke-width="0.3" transform="rotate(-90 1323.3 2188)">Normalized Counts: Left Hemisphere</text>
<text x="1388.00" y="1975.00" font-size="18.2" font-weight="normal" text-anchor="start" fill="#111" stroke="#111" stroke-width="0.25" ><tspan font-style="italic">R</tspan> = 0.7, <tspan font-style="italic">p</tspan> &lt; 2.2e-16</text>
<path d="M1388.5 2426.2 L1840 1955.4" stroke="#0a0a0a" stroke-width="2.6" stroke-linecap="round"/>
<path d="M1388.5 2426.2h0M1390.2 2424.6h0M1391.9 2422.9h0M1393.6 2421.3h0M1395.3 2419.2h0M1397.0 2417.2h0M1399.6 2415.1h0M1402.2 2412.7h0M1404.7 2410.6h0M1406.9 2408.5h0M1409.8 2404.0h0M1423.5 2390.1h0M1441.0 2371.2h0M1551.5 2255.8h0M1624.1 2180.7h0M1634.3 2171.7h0M1636.0 2173.3h0M1651.4 2153.6h0M1667.6 2138.8h0M1840 1955.4h0" stroke="#0a0a0a" stroke-width="6.4" stroke-linecap="round" fill="none"/>
</svg>
</body></html>
